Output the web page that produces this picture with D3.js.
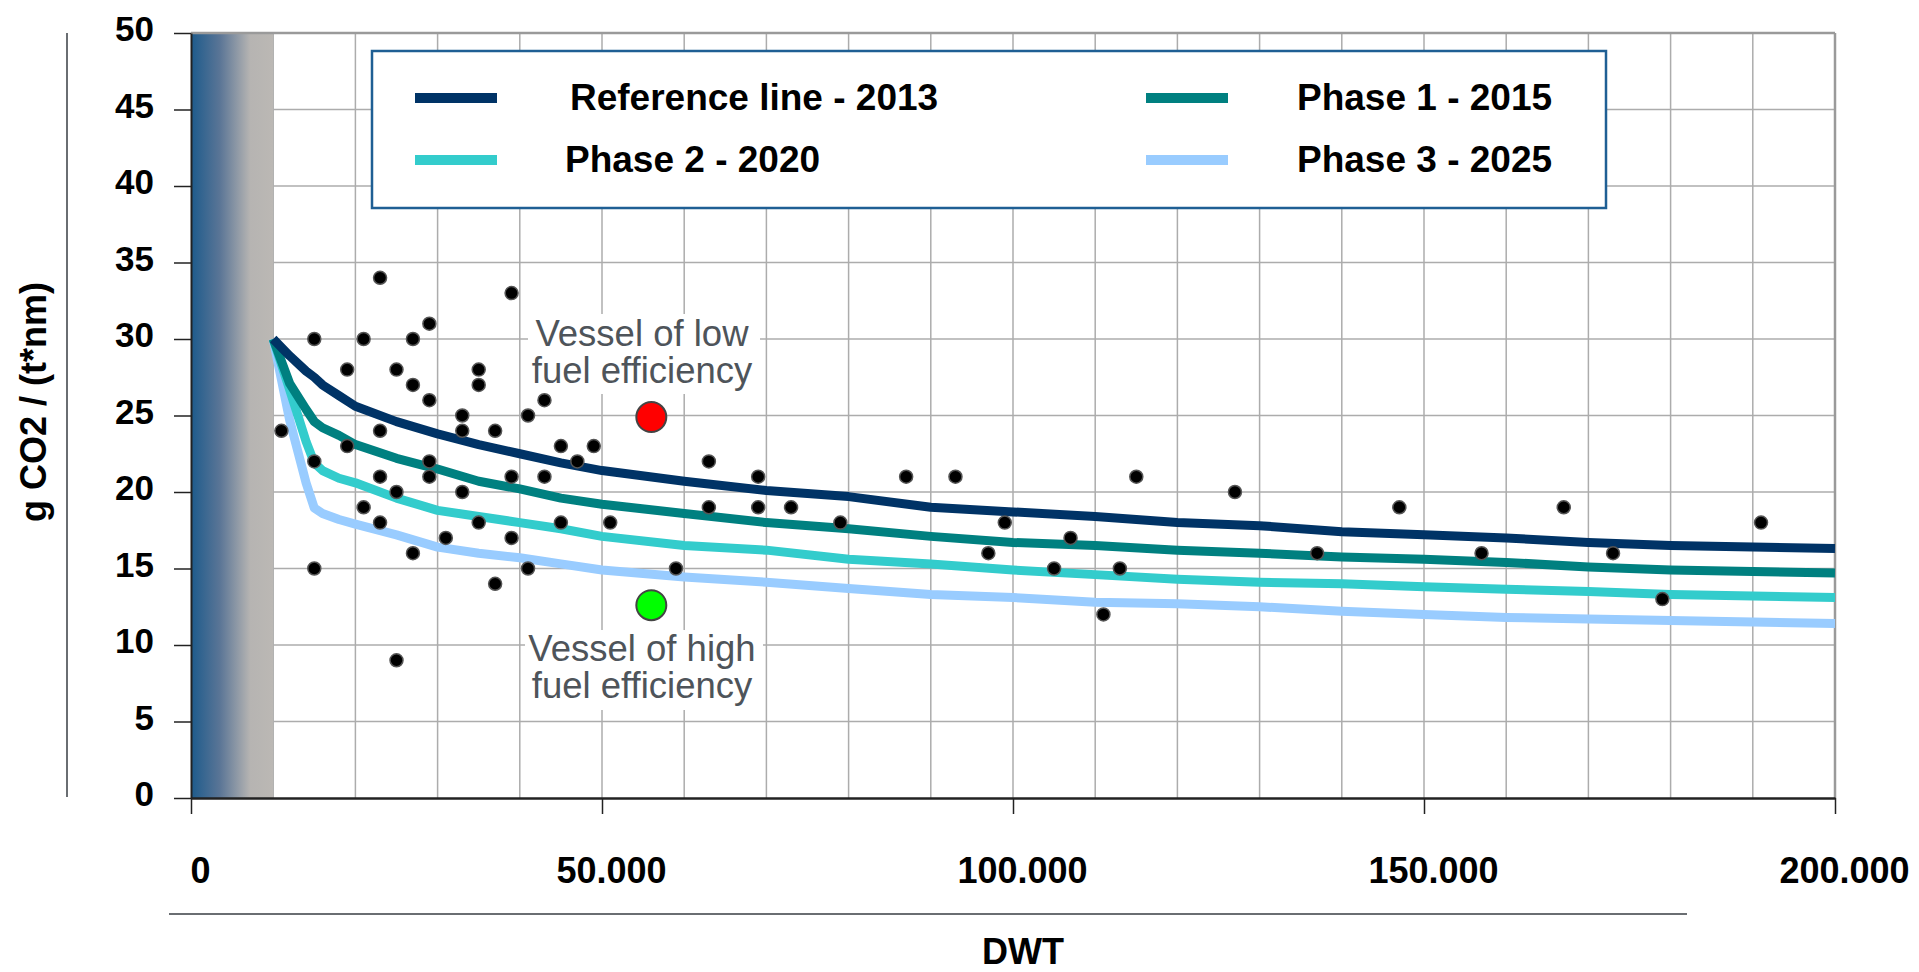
<!DOCTYPE html>
<html>
<head>
<meta charset="utf-8">
<script src="https://cdn.jsdelivr.net/npm/d3@7"></script>
<style>
  html, body { margin: 0; padding: 0; background: #ffffff; }
  svg { display: block; font-family: "Liberation Sans", Arial, sans-serif; }
</style>
</head>
<body>
<svg id="chart" width="1919" height="972"></svg>
<script>
// ---- Data ----
const dwt = [10000, 12000, 14000, 15000, 16000, 18000, 20000, 25000, 30000, 35000, 40000, 45000, 50000,
  60000, 70000, 80000, 90000, 100000, 110000, 120000, 130000, 140000, 150000, 160000, 170000, 180000, 190000, 200000];
const referenceLine2013 = [30, 28.9, 27.9, 27.5, 27.0, 26.3, 25.6, 24.6, 23.8, 23.1, 22.5, 21.9, 21.4,
  20.7, 20.1, 19.7, 19.0, 18.7, 18.4, 18.0, 17.8, 17.4, 17.2, 17.0, 16.7, 16.5, 16.4, 16.3];
const phase1_2015 = [30, 27.1, 25.4, 24.6, 24.2, 23.7, 23.1, 22.2, 21.5, 20.7, 20.2, 19.6, 19.2,
  18.6, 18.0, 17.6, 17.1, 16.7, 16.5, 16.2, 16.0, 15.75, 15.6, 15.4, 15.1, 14.9, 14.8, 14.7];
const phase2_2020 = [30, 26.7, 23.3, 21.9, 21.4, 20.9, 20.6, 19.6, 18.8, 18.4, 18.0, 17.6, 17.1,
  16.5, 16.2, 15.6, 15.3, 14.9, 14.6, 14.3, 14.1, 14.0, 13.8, 13.65, 13.5, 13.3, 13.2, 13.1];
const phase3_2025 = [30, 24.7, 20.6, 18.95, 18.6, 18.2, 17.9, 17.2, 16.4, 16.0, 15.7, 15.3, 14.9,
  14.45, 14.1, 13.7, 13.3, 13.1, 12.8, 12.7, 12.5, 12.2, 12.0, 11.8, 11.7, 11.6, 11.5, 11.4];

const seriesNames = ["Reference line - 2013", "Phase 1 - 2015", "Phase 2 - 2020", "Phase 3 - 2025"];
const seriesColors = ["#003366", "#008080", "#33CCCC", "#99CCFF"];

// Existing vessels (DWT, g CO2 / (t*nm))
const vesselDwt = [23000, 39000, 29000, 15000, 21000, 27000, 19000, 25000, 35000, 27000, 35000, 29000, 43000,
  33000, 41000, 11000, 23000, 33000, 37000, 45000, 49000, 19000, 47000, 63000, 15000, 29000, 23000, 29000,
  39000, 43000, 25000, 33000, 21000, 63000, 23000, 35000, 45000, 51000, 31000, 39000, 27000, 15000, 41000,
  59000, 37000, 25000,
  69000, 87000, 93000, 115000, 127000, 69000, 73000, 79000, 99000, 107000, 97000, 105000, 113000, 111000,
  147000, 167000, 191000, 137000, 157000, 173000, 179000];
const vesselCO2 = [34, 33, 31, 30, 30, 30, 28, 28, 28, 27, 27, 26, 26,
  25, 25, 24, 24, 24, 24, 23, 23, 23, 22, 22, 22, 22, 21, 21,
  21, 21, 20, 20, 19, 19, 18, 18, 18, 18, 17, 17, 16, 15, 15,
  15, 14, 9,
  21, 21, 21, 21, 20, 19, 19, 18, 18, 17, 16, 15, 15, 12,
  19, 19, 18, 16, 16, 16, 13];

const highlightLabels = ["Vessel of low|fuel efficiency", "Vessel of high|fuel efficiency"];
const highlightDwt = [56000, 56000];
const highlightCO2 = [24.9, 12.6];
const highlightColors = ["#FF0000", "#00FF00"];

const yTicks = [0, 5, 10, 15, 20, 25, 30, 35, 40, 45, 50];
const xTicks = [0, 50000, 100000, 150000, 200000];
const xTickLabels = ["0", "50.000", "100.000", "150.000", "200.000"];
const xGrid = d3.range(10000, 200000, 10000);
const bandEnd = 10000;

// ---- Layout ----
const svg = d3.select("#chart");
const x = d3.scaleLinear().domain([0, 200000]).range([191, 1835]);
const y = d3.scaleLinear().domain([0, 50]).range([798, 33]);

// gradient band
const defs = svg.append("defs");
const grad = defs.append("linearGradient").attr("id", "band").attr("x1", "0%").attr("x2", "100%");
grad.append("stop").attr("offset", "0%").attr("stop-color", "#1d5b8c");
grad.append("stop").attr("offset", "35%").attr("stop-color", "#5a7596");
grad.append("stop").attr("offset", "72%").attr("stop-color", "#b6b4b2");
grad.append("stop").attr("offset", "100%").attr("stop-color", "#bbb8b4");

// grid
const grid = svg.append("g");
grid.selectAll(".hg").data(yTicks.filter(d => d > 0 && d < 50)).join("line")
  .attr("x1", x(0)).attr("x2", x(200000))
  .attr("y1", d => y(d)).attr("y2", d => y(d))
  .attr("stroke", "#acacac").attr("stroke-width", 1.5);
grid.selectAll(".vg").data(xGrid).join("line")
  .attr("x1", d => x(d)).attr("x2", d => x(d))
  .attr("y1", y(50)).attr("y2", y(0))
  .attr("stroke", "#acacac").attr("stroke-width", 1.5);

svg.append("rect")
  .attr("x", x(0)).attr("y", y(50))
  .attr("width", x(bandEnd) - x(0)).attr("height", y(0) - y(50))
  .attr("fill", "url(#band)");

// borders
svg.append("line").attr("x1", x(0)).attr("x2", x(200000)).attr("y1", y(50)).attr("y2", y(50))
  .attr("stroke", "#9a9a9a").attr("stroke-width", 2.5);
svg.append("line").attr("x1", x(200000)).attr("x2", x(200000)).attr("y1", y(50)).attr("y2", y(0))
  .attr("stroke", "#9a9a9a").attr("stroke-width", 2.5);

const annG = svg.append("g");
const annBoxes = [[528, 314, 232, 80], [525, 630, 238, 80]];

// axes
const yAxis = d3.axisLeft(y).tickValues(yTicks).tickSize(17).tickSizeOuter(0).tickPadding(20);
const yg = svg.append("g").attr("transform", `translate(${x(0)},0)`).call(yAxis);
yg.select(".domain").attr("stroke", "#222").attr("stroke-width", 2);
yg.selectAll(".tick line").attr("stroke", "#222").attr("stroke-width", 1.5);
yg.selectAll(".tick text")
  .attr("font-family", "'Liberation Sans', Arial, sans-serif")
  .attr("font-size", 35).attr("font-weight", "bold").attr("fill", "#000")
  .attr("dy", "0.22em");

const xAxis = d3.axisBottom(x).tickValues(xTicks).tickSize(16).tickSizeOuter(0)
  .tickFormat((d, i) => xTickLabels[i]);
const xg = svg.append("g").attr("transform", `translate(0,${y(0)})`).call(xAxis);
xg.select(".domain").attr("stroke", "#222").attr("stroke-width", 2.5);
xg.selectAll(".tick line").attr("stroke", "#222").attr("stroke-width", 1.5);
xg.selectAll(".tick text")
  .attr("font-family", "'Liberation Sans', Arial, sans-serif")
  .attr("font-size", 36).attr("font-weight", "bold").attr("fill", "#000")
  .attr("x", 9).attr("y", 0).attr("dy", 85);

// decorative axis lines
svg.append("line").attr("x1", 67).attr("x2", 67).attr("y1", 33).attr("y2", 797)
  .attr("stroke", "#6a6e72").attr("stroke-width", 2);
svg.append("line").attr("x1", 169).attr("x2", 1687).attr("y1", 914).attr("y2", 914)
  .attr("stroke", "#6a6e72").attr("stroke-width", 2);

// axis titles
svg.append("text").attr("x", 1023).attr("y", 964).attr("text-anchor", "middle")
  .attr("font-size", 36).attr("font-weight", "bold").attr("fill", "#000").text("DWT");
svg.append("text").attr("transform", "translate(46,402) rotate(-90)").attr("text-anchor", "middle")
  .attr("font-size", 36).attr("font-weight", "bold").attr("fill", "#000").text("g CO2 / (t*nm)");

// lines
const allSeries = [referenceLine2013, phase1_2015, phase2_2020, phase3_2025];
const lineGen = d3.line().x((d, i) => x(dwt[i])).y(d => y(d));
const linesG = svg.append("g");
[3, 2, 1, 0].forEach(k => {
  linesG.append("path").datum(allSeries[k])
    .attr("d", lineGen).attr("fill", "none")
    .attr("stroke", seriesColors[k]).attr("stroke-width", 9)
    .attr("stroke-linejoin", "round");
});

// vessel dots
svg.append("g").selectAll("circle").data(vesselDwt).join("circle")
  .attr("cx", d => x(d)).attr("cy", (d, i) => y(vesselCO2[i])).attr("r", 6.5)
  .attr("fill", "#000").attr("stroke", "#555").attr("stroke-width", 1.5);

// annotation labels with white boxes
highlightLabels.forEach((lab, i) => {
  const [bx, by, bw, bh] = annBoxes[i];
  annG.append("rect").attr("x", bx).attr("y", by).attr("width", bw).attr("height", bh).attr("fill", "#fff");
  const lines = lab.split("|");
  const baseY = i === 0 ? 346 : 661;
  lines.forEach((t, j) => {
    annG.append("text").attr("x", 642).attr("y", baseY + j * 37)
      .attr("text-anchor", "middle").attr("font-size", 36.5).attr("fill", "#4e545a").text(t);
  });
});

// highlight dots
svg.append("g").selectAll("circle").data(highlightDwt).join("circle")
  .attr("cx", d => x(d)).attr("cy", (d, i) => y(highlightCO2[i])).attr("r", 15)
  .attr("fill", (d, i) => highlightColors[i]).attr("stroke", "#444").attr("stroke-width", 2);

// legend
const leg = svg.append("g");
leg.append("rect").attr("x", 372).attr("y", 51).attr("width", 1234).attr("height", 157)
  .attr("fill", "#fff").attr("stroke", "#1f5f94").attr("stroke-width", 2.5);
const legPos = [
  { sx: 415, tx: 570, ty: 110 },
  { sx: 1146, tx: 1297, ty: 110 },
  { sx: 415, tx: 565, ty: 172 },
  { sx: 1146, tx: 1297, ty: 172 }
];
seriesNames.forEach((name, k) => {
  const p = legPos[k];
  leg.append("line").attr("x1", p.sx).attr("x2", p.sx + 82)
    .attr("y1", p.ty - 12).attr("y2", p.ty - 12)
    .attr("stroke", seriesColors[k]).attr("stroke-width", 10);
  leg.append("text").attr("x", p.tx).attr("y", p.ty)
    .attr("font-size", 37).attr("font-weight", "bold").attr("fill", "#000").text(name);
});
</script>
</body>
</html>
